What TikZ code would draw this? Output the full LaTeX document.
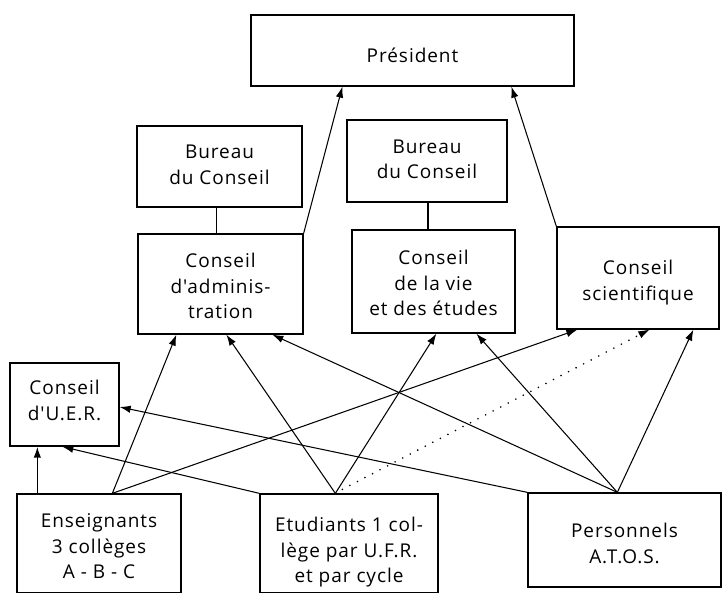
\documentclass[tikz,border=0pt]{standalone}
\usepackage{fontspec}
\newfontfamily\df[LetterSpace=5]{Open Sans}
\usetikzlibrary{arrows.meta,calc}
\newcommand\mytxt[2]{\raisebox{#1}[\height][\depth]{\begin{tabular}{@{}c@{}}#2\end{tabular}}}
\tikzset{
  box/.style={draw, line width=1.3pt, rectangle, inner sep=0pt,
    font=\df\fontsize{19}{25.5}\selectfont},
  tip/.style={-{Latex[length=11pt,width=7.5pt]}},
  conn/.style={line width=1.05pt, tip},
  plain/.style={line width=1.1pt},
  dotline/.style={line width=1.8pt, line cap=round, dash pattern=on 0pt off 8.5pt,
    -{Latex[length=11pt,width=7.5pt,line width=0pt]}}
}
\begin{document}
\begin{tikzpicture}[x=1pt,y=-1pt]
\useasboundingbox (0,0) rectangle (722,593);
% boxes
\node[box, minimum width=323pt, minimum height=71pt] (pres) at (412.5,50.5) {\mytxt{-6.5pt}{Président}};
\node[box, minimum width=165pt, minimum height=81pt] (bur1) at (219.5,166.5) {\mytxt{0pt}{Bureau\\du Conseil}};
\node[box, minimum width=160pt, minimum height=82pt] (bur2) at (427,161) {\mytxt{0pt}{Bureau\\du Conseil}};
\node[box, minimum width=165pt, minimum height=100pt] (adm) at (220.5,284) {\mytxt{-4pt}{Conseil\\d'adminis-\\tration}};
\node[box, minimum width=163pt, minimum height=103pt] (vie) at (433.5,281.5) {\mytxt{-3.5pt}{Conseil\\de la vie\\et des études}};
\node[box, minimum width=162pt, minimum height=102pt] (sci) at (638,278) {\mytxt{-4.5pt}{Conseil\\scientifique}};
\node[box, minimum width=109pt, minimum height=83pt] (uer) at (64.5,404.5) {\mytxt{2pt}{Conseil\\d'U.E.R.}};
\node[box, minimum width=164pt, minimum height=99pt] (ens) at (99,543.5) {\mytxt{-4.5pt}{Enseignants\\3 collèges\\A - B - C}};
\node[box, minimum width=178pt, minimum height=99pt] (etu) at (349,543.5) {\mytxt{-8.5pt}{Etudiants 1 col-\\lège par U.F.R.\\et par cycle}};
\node[box, minimum width=193pt, minimum height=94pt] (per) at (624.5,540) {\mytxt{-5.5pt}{Personnels\\A.T.O.S.}};
% connection points
\coordinate (ensA) at ([xshift=96pt]ens.north west);
\coordinate (etuA) at ([xshift=76pt]etu.north west);
\coordinate (perA) at ([xshift=90pt]per.north west);
% bureau links
\draw[plain] ([xshift=80pt]bur1.south west) -- ([xshift=80pt]bur1.south west |- adm.north);
\draw[plain] ([xshift=1pt]bur2.south) -- ([xshift=1pt]bur2.south |- vie.north);
% to president
\draw[conn] (adm.north east) -- ([xshift=92pt]pres.south west);
\draw[conn] (sci.north west) -- ([xshift=261pt]pres.south west);
% enseignants
\draw[conn, line width=1.6pt] ([xshift=21pt]ens.north west) -- ([xshift=21pt]ens.north west |- uer.south);
\draw[conn] (ensA) -- ([xshift=39pt]adm.south west);
\draw[conn] (ensA) -- ([xshift=21pt]sci.south west);
% etudiants
\draw[conn] (etuA) -- ([xshift=89pt]adm.south west);
\draw[conn] (etuA) -- ([xshift=85pt]vie.south west);
\draw[dotline] ([xshift=7pt,yshift=4pt]etuA) -- ([xshift=93pt]sci.south west);
\draw[conn] (etu.north west) -- ([xshift=53pt]uer.south west);
% personnels
\draw[conn] (perA) -- ([xshift=135pt]adm.south west);
\draw[conn] (perA) -- ([xshift=125pt]vie.south west);
\draw[conn] (perA) -- ([xshift=137pt]sci.south west);
\draw[conn] (per.north west) -- ([yshift=-2.5pt]uer.east);
\end{tikzpicture}
\end{document}
